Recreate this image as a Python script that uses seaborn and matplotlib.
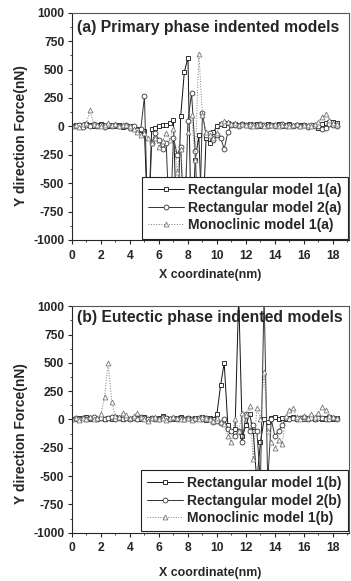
import matplotlib
matplotlib.use("Agg")
import matplotlib.pyplot as plt
import seaborn as sns
from matplotlib.ticker import MultipleLocator

# x grid (nm), 0.25 nm spacing
x_nm = [
    0.0, 0.25, 0.5, 0.75, 1.0, 1.25, 1.5, 1.75,
    2.0, 2.25, 2.5, 2.75, 3.0, 3.25, 3.5, 3.75,
    4.0, 4.25, 4.5, 4.75, 5.0, 5.25, 5.5, 5.75,
    6.0, 6.25, 6.5, 6.75, 7.0, 7.25, 7.5, 7.75,
    8.0, 8.25, 8.5, 8.75, 9.0, 9.25, 9.5, 9.75,
    10.0, 10.25, 10.5, 10.75, 11.0, 11.25, 11.5, 11.75,
    12.0, 12.25, 12.5, 12.75, 13.0, 13.25, 13.5, 13.75,
    14.0, 14.25, 14.5, 14.75, 15.0, 15.25, 15.5, 15.75,
    16.0, 16.25, 16.5, 16.75, 17.0, 17.25, 17.5, 17.75,
    18.0, 18.25,
]

# (a) primary phase
rect1_a = [
    5, 10, 0, 15, 20, 10, 5, 15,
    25, 10, 0, 15, 5, 10, -5, 5,
    0, -10, -20, -30, -40, -950, -20, -10,
    0, 10, 15, 30, 60, -1050, 90, 480,
    605, -1050, -300, -80, -950, -100, -150, -50,
    0, 20, 10, 30, 15, 20, 10, 25,
    15, 20, 10, 25, 5, 15, 20, 10,
    15, 20, 5, 10, 20, 0, 15, 10,
    10, 5, 0, 15, -10, 20, 30, 40,
    35, 30,
]
rect2_a = [
    0, 5, 15, -5, 10, 0, 20, 5,
    10, -5, 15, 0, 10, 5, 0, 10,
    -10, 0, -30, -20, 263, -950, -150, -60,
    -120, -200, -150, -950, -100, -250, -180, -950,
    50, 290, -220, -1050, 114, -80, -60, -120,
    -80, -100, -200, -50, 10, 15, 5, 20,
    10, 0, 15, 5, 20, 10, 0, 15,
    5, 10, 20, 0, 15, 5, 10, 0,
    10, -5, 15, 0, 5, -20, -10, 20,
    10, 5,
]
mono_a = [
    0, 10, -5, 20, 30, 140, 20, 10,
    0, 15, 30, 10, 20, 0, 15, 10,
    5, -20, -50, -80, -60, -100, -150, -100,
    -180, -130, -60, -120, -20, -400, -200, -650,
    -50, 100, -300, 640, 100, -50, -80, -100,
    -60, 30, 50, 40, 20, 30, 10, 20,
    10, 25, 5, 15, 20, 0, 10, 15,
    20, 5, 10, 15, 0, 10, 20, 5,
    10, 15, 0, 20, 40, 80, 110, 60,
    30, 20,
]

# (b) eutectic phase
rect1_b = [
    5, 0, 10, 15, 20, 5, 10, 0,
    15, 5, 10, 0, 20, 15, 5, 10,
    0, 15, 10, 5, 20, 0, 10, 5,
    15, 30, 10, 5, 0, 10, 20, 5,
    15, 0, 10, 5, 20, -5, 10, 0,
    50, 300, 500, -50, -100, -80, 1100, -150,
    -50, 50, -100, -550, -200, 0, -20, 10,
    20, 5, 15, 0, 10, 20, 5, 15,
    0, 10, 20, 5, 15, 0, 10, 20,
    5, 10,
]
rect2_b = [
    0, 10, 5, 15, 0, 10, 20, 5,
    10, 0, 15, 20, 5, 10, 0, 15,
    5, 10, 0, 20, 15, 5, 10, 0,
    5, 20, 10, 0, 15, 5, 10, 0,
    10, 5, 0, 15, 5, 10, 0, -20,
    -10, -30, 0, -80, -100, -150, -100, -200,
    50, -100, -50, -100, -550, 1100, -550, 0,
    -150, -100, -50, 10, 0, 15, 5, 10,
    20, 0, 10, 5, 15, 10, 0, 5,
    10, 0,
]
mono_b = [
    0, 10, -5, 15, 5, 20, 0, 10,
    50, 200, 500, 150, 30, 20, 60, 40,
    10, 30, 60, 20, 0, -10, 10, 20,
    0, 10, -5, 15, 20, 10, 0, 5,
    10, -5, 15, 0, 20, 10, 5, -10,
    10, -20, -40, -150, -200, 0, -100, 60,
    40, 115, -350, 100, 0, 420, -100, -200,
    -250, -180, -220, 30, 80, 100, 20, 0,
    30, 10, 50, 20, 60, 110, 80, 30,
    20, 10,
]

x_ticks = [0, 2, 4, 6, 8, 10, 12, 14, 16, 18]
y_ticks = [-1000, -750, -500, -250, 0, 250, 500, 750, 1000]

sns.set_theme(style="ticks")
plt.rcParams["font.family"] = ["Liberation Sans", "DejaVu Sans"]
plt.rcParams["font.weight"] = "bold"
plt.rcParams["axes.labelweight"] = "bold"
plt.rcParams["axes.unicode_minus"] = False


def draw_panel(ax, series, labels, title, title_y, ylabel_y, xlabel_y):
    styles = [
        ("s", "#111111", "-"),
        ("o", "#333333", "-"),
        ("^", "#777777", ":"),
    ]
    for y, lab, (mk, col, ls) in zip(series, labels, styles):
        sns.lineplot(x=x_nm, y=y, ax=ax, sort=False, estimator=None,
                     color=col, linestyle=ls, linewidth=0.7,
                     marker=mk, markersize=3.5, markerfacecolor="white",
                     markeredgecolor=col, markeredgewidth=0.6, label=lab)
    ax.set_xlim(0, 19.1)
    ax.set_ylim(-1000, 1000)
    ax.set_xticks(x_ticks)
    ax.set_yticks(y_ticks)
    ax.xaxis.set_minor_locator(MultipleLocator(1))
    ax.yaxis.set_minor_locator(MultipleLocator(125))
    ax.tick_params(axis="both", which="major", direction="out", length=3,
                   width=0.8, labelsize=8.7, pad=2.5)
    ax.tick_params(axis="x", which="major", pad=4)
    ax.tick_params(axis="both", which="minor", direction="out", length=1.5,
                   width=0.6)
    for lab in ax.get_xticklabels() + ax.get_yticklabels():
        lab.set_fontweight("bold")
    for side in ["top", "right", "left", "bottom"]:
        ax.spines[side].set_visible(True)
        ax.spines[side].set_linewidth(0.8)
    ax.spines["top"].set_color("#555555")
    ax.spines["right"].set_color("#555555")
    ax.set_xlabel("X coordinate(nm)", fontsize=8.9, fontweight="bold")
    ax.set_ylabel("Y direction Force(nN)", fontsize=10, fontweight="bold")
    ax.xaxis.set_label_coords(0.5, xlabel_y)
    ax.yaxis.set_label_coords(-0.158, ylabel_y)
    ax.text(0.02, title_y, title, transform=ax.transAxes, fontsize=11.3,
            fontweight="bold", ha="left", va="center")
    leg = ax.legend(loc="lower right", fontsize=10, handlelength=2.6,
                    handletextpad=0.25, borderpad=0.45, labelspacing=0.26,
                    fancybox=False, framealpha=1, edgecolor="#222222",
                    borderaxespad=0.1)
    leg.get_frame().set_linewidth(0.8)
    for t in leg.get_texts():
        t.set_fontweight("bold")


fig = plt.figure(figsize=(3.51, 5.81), dpi=100)
ax1 = fig.add_axes([0.205, 0.587, 0.789, 0.391])
ax2 = fig.add_axes([0.205, 0.083, 0.789, 0.39])

draw_panel(ax1, [rect1_a, rect2_a, mono_a],
           ["Rectangular model 1(a)", "Rectangular model 2(a)", "Monoclinic model 1(a)"],
           "(a) Primary phase indented models", 0.935, 0.46, -0.13)
draw_panel(ax2, [rect1_b, rect2_b, mono_b],
           ["Rectangular model 1(b)", "Rectangular model 2(b)", "Monoclinic model 1(b)"],
           "(b) Eutectic phase indented models", 0.95, 0.44, -0.15)

fig.savefig("out.png", dpi=100)
